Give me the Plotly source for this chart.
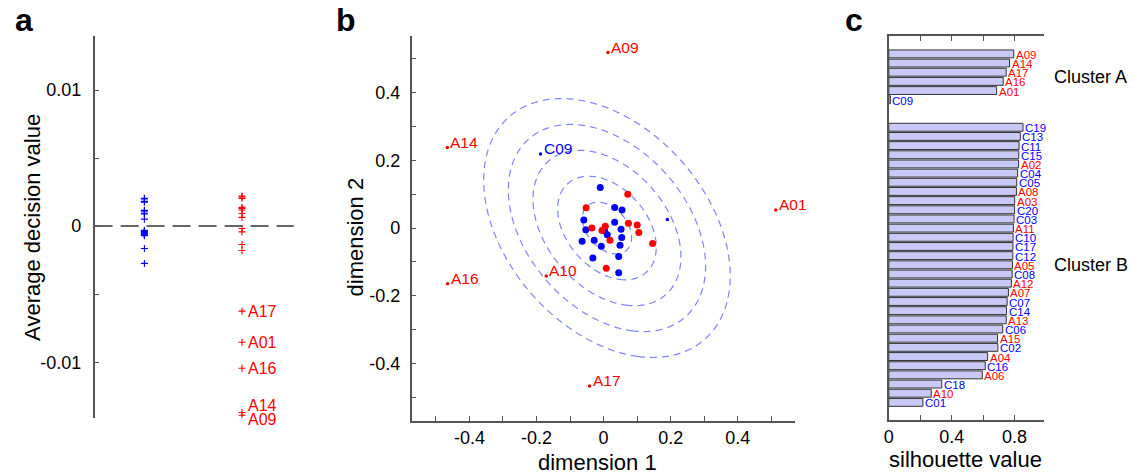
import numpy as np
import plotly.graph_objects as go

W, H = 1134, 475
FONT = "Arial, 'Liberation Sans', Helvetica, sans-serif"
BLUE = "#0000ff"
RED = "#ff0000"
AXC = "#555555"

# ---------------- Panel a data ----------------
a_group_names = ["controls", "patients"]
a_control_values = [0.00204, 0.00199, 0.00182, 0.00176, 0.00116, 0.00110, 0.00095, 0.00090,
                    0.00051, -0.00030, -0.00035, -0.00040, -0.00045, -0.00050, -0.00055,
                    -0.00060, -0.00066, -0.00070, -0.00164, -0.00274]
a_patient_values = [0.00221, 0.00215, 0.00204, 0.00138, 0.00130, 0.00118, 0.00093, 0.00064,
                    -0.00017, -0.00042, -0.00135, -0.00179]
a_outlier_labels = ["A17", "A01", "A16", "A14", "A09"]
a_outlier_values = [-0.00625, -0.00853, -0.01044, -0.01370, -0.01390]
a_ticks = [-0.01, 0, 0.01]
a_ticktext = ["-0.01", "0", "0.01"]

# ---------------- Panel b data ----------------
b_control_x = [-0.010, 0.033, 0.055, -0.059, 0.033, -0.053, 0.003, 0.011, 0.052, -0.064,
               -0.028, 0.054, -0.007, 0.049, -0.032, 0.045, 0.045]
b_control_y = [0.120, 0.061, 0.053, 0.024, 0.017, -0.005, -0.009, -0.020, -0.004, -0.039,
               -0.036, -0.028, -0.054, -0.051, -0.089, -0.084, -0.132]
b_control_small_x = [0.190]
b_control_small_y = [0.025]
b_patient_x = [0.072, -0.052, 0.074, 0.100, 0.105, -0.035, -0.005, 0.005, 0.019, 0.146, 0.008]
b_patient_y = [0.100, 0.060, 0.014, 0.009, -0.013, 0.000, -0.007, 0.005, -0.036, -0.046, -0.119]
b_out_labels = ["A09", "A14", "A01", "A16", "A10", "A17", "C09"]
b_out_x = [0.013, -0.466, 0.513, -0.465, -0.171, -0.042, -0.188]
b_out_y = [0.519, 0.238, 0.053, -0.165, -0.142, -0.467, 0.219]
b_ticks = [-0.4, -0.2, 0, 0.2, 0.4]
b_ticktext = ["-0.4", "-0.2", "0", "0.2", "0.4"]
b_minor = [-0.5, -0.3, -0.1, 0.1, 0.3, 0.5]
# Gaussian contour model (centre, per-ring SDs, correlation, ring levels)
b_contour_center = [0.010, 0.000]
b_contour_sd = [0.0735, 0.0766]
b_contour_corr = -0.37
b_contour_levels = [1, 2, 3, 4, 5]

# ---------------- Panel c data ----------------
c_clusterA_labels = ["A09", "A14", "A17", "A16", "A01", "C09"]
c_clusterA_values = [0.795, 0.768, 0.747, 0.728, 0.686, 0.010]
c_clusterB_labels = ["C19", "C13", "C11", "C15", "A02", "C04", "C05", "A08", "A03", "C20",
                     "C03", "A11", "C10", "C17", "C12", "A05", "C08", "A12", "A07", "C07",
                     "C14", "A13", "C06", "A15", "C02", "A04", "C16", "A06", "C18", "A10", "C01"]
c_clusterB_values = [0.854, 0.837, 0.829, 0.827, 0.826, 0.820, 0.814, 0.812, 0.801, 0.800,
                     0.797, 0.793, 0.791, 0.790, 0.789, 0.787, 0.785, 0.780, 0.761, 0.753,
                     0.749, 0.747, 0.725, 0.692, 0.694, 0.629, 0.614, 0.595, 0.337, 0.270, 0.217]
c_ticks = [0, 0.4, 0.8]
c_ticktext = ["0", "0.4", "0.8"]
c_minor = [0.2, 0.6]


def px_x(p):
    return p / W


def px_y(p):
    return 1 - p / H


fig = go.Figure()

# ----- Panel a -----
fig.add_trace(go.Scatter(
    x=[1] * len(a_control_values), y=a_control_values, mode="markers",
    marker=dict(symbol="cross-thin", size=5, line=dict(color=BLUE, width=1.1)),
    xaxis="x", yaxis="y", showlegend=False, hoverinfo="skip"))
fig.add_trace(go.Scatter(
    x=[2] * (len(a_patient_values) + len(a_outlier_values)),
    y=a_patient_values + a_outlier_values, mode="markers",
    marker=dict(symbol="cross-thin", size=5, line=dict(color=RED, width=1.1)),
    xaxis="x", yaxis="y", showlegend=False, hoverinfo="skip"))

annotations = []
a_label_shift = {"A14": 7, "A09": -4}
for lab, v in zip(a_outlier_labels, a_outlier_values):
    annotations.append(dict(x=2, y=v, xref="x", yref="y", text=lab, showarrow=False,
                            xanchor="left", yanchor="middle", xshift=4,
                            yshift=a_label_shift.get(lab, 0),
                            font=dict(size=16, color=RED, family=FONT)))

# ----- Panel b -----
gx = np.linspace(-0.57, 0.57, 301)
gy = np.linspace(-0.57, 0.57, 301)
GX, GY = np.meshgrid(gx, gy)
dx = (GX - b_contour_center[0]) / b_contour_sd[0]
dy = (GY - b_contour_center[1]) / b_contour_sd[1]
r = b_contour_corr
dist = np.sqrt((dx ** 2 - 2 * r * dx * dy + dy ** 2) / (1 - r ** 2))
fig.add_trace(go.Contour(
    x=gx, y=gy, z=dist,
    contours=dict(start=b_contour_levels[0], end=b_contour_levels[-1], size=1, coloring="none"),
    line=dict(color="rgba(100,110,255,0.85)", width=1.2, dash="7px,5px"),
    showscale=False, hoverinfo="skip", xaxis="x2", yaxis="y2"))

fig.add_trace(go.Scatter(
    x=b_control_x, y=b_control_y, mode="markers",
    marker=dict(color=BLUE, size=7), xaxis="x2", yaxis="y2",
    showlegend=False, hoverinfo="skip"))
fig.add_trace(go.Scatter(
    x=b_patient_x, y=b_patient_y, mode="markers",
    marker=dict(color=RED, size=7), xaxis="x2", yaxis="y2",
    showlegend=False, hoverinfo="skip"))
fig.add_trace(go.Scatter(
    x=b_control_small_x, y=b_control_small_y, mode="markers",
    marker=dict(color=BLUE, size=3.5), xaxis="x2", yaxis="y2",
    showlegend=False, hoverinfo="skip"))
b_out_colors = [BLUE if l.startswith("C") else RED for l in b_out_labels]
fig.add_trace(go.Scatter(
    x=b_out_x, y=b_out_y, mode="markers",
    marker=dict(color=b_out_colors, size=3.5), xaxis="x2", yaxis="y2",
    showlegend=False, hoverinfo="skip"))
for lab, x, y, col in zip(b_out_labels, b_out_x, b_out_y, b_out_colors):
    annotations.append(dict(x=x, y=y, xref="x2", yref="y2", text=lab, showarrow=False,
                            xanchor="left", yanchor="bottom", xshift=1, yshift=-5,
                            font=dict(size=15.5, color=col, family=FONT)))

# ----- Panel c -----
c_labels = c_clusterA_labels + c_clusterB_labels
c_values = c_clusterA_values + c_clusterB_values
c_pos = list(range(len(c_clusterA_labels))) + \
    [len(c_clusterA_labels) + 2 + j for j in range(len(c_clusterB_labels))]
fig.add_trace(go.Bar(
    x=c_values, y=c_pos, orientation="h",
    marker=dict(color="#c9c9f7", line=dict(color="#333333", width=1)),
    width=0.86, xaxis="x3", yaxis="y3", showlegend=False, hoverinfo="skip"))
for lab, v, p in zip(c_labels, c_values, c_pos):
    annotations.append(dict(x=v, y=p, xref="x3", yref="y3", text=lab, showarrow=False,
                            xanchor="left", yanchor="middle", xshift=0, yshift=-1,
                            font=dict(size=11.5, color=BLUE if lab.startswith("C") else RED,
                                      family=FONT)))

# ----- Text annotations (panel letters, titles) -----
def paper_text(x, y, text, size, bold=False, angle=0, xanchor="center", yanchor="middle"):
    annotations.append(dict(x=px_x(x), y=px_y(y), xref="paper", yref="paper",
                            text=("<b>%s</b>" % text) if bold else text, showarrow=False,
                            textangle=angle, xanchor=xanchor, yanchor=yanchor,
                            font=dict(size=size, color="#000000", family=FONT)))


paper_text(19, 20, "a", 32, bold=True)
paper_text(343, 20, "b", 32, bold=True)
paper_text(853, 20, "c", 32, bold=True)
paper_text(27, 227, "Average decision value", 22, angle=-90)
paper_text(353, 237, "dimension 2", 22, angle=-90)
paper_text(595, 462, "dimension 1", 22)
paper_text(965, 459, "silhouette value", 22)
paper_text(1052, 77, "Cluster A", 18, xanchor="left")
paper_text(1052, 265, "Cluster B", 18, xanchor="left")

common_axis = dict(showline=True, linecolor=AXC, linewidth=1.5, ticks="inside", ticklen=5,
                   tickwidth=1.2, tickcolor=AXC, showgrid=False, zeroline=False,
                   tickfont=dict(size=18, color="#000000", family=FONT))

fig.update_layout(
    width=W, height=H, margin=dict(l=0, r=0, t=0, b=0),
    paper_bgcolor="white", plot_bgcolor="white", showlegend=False,
    font=dict(family=FONT),
    xaxis=dict(domain=[px_x(90), px_x(290)], range=[0.49, 2.53], visible=False, anchor="y"),
    yaxis=dict(domain=[px_y(418), px_y(36)], range=[-0.0141, 0.01397], anchor="x",
               tickvals=a_ticks, ticktext=a_ticktext, ticklabelstandoff=8,
               minor=dict(tickvals=[-0.005, 0.005], ticks="inside", ticklen=5,
                          tickcolor=AXC, showgrid=False),
               **common_axis),
    xaxis2=dict(domain=[px_x(408.5), px_x(793)], range=[-0.572, 0.569], anchor="y2",
                tickvals=b_ticks, ticktext=b_ticktext,
                minor=dict(tickvals=b_minor, ticks="inside", ticklen=5, tickcolor=AXC,
                           showgrid=False),
                **common_axis),
    yaxis2=dict(domain=[px_y(420.7), px_y(36)], range=[-0.57, 0.568], anchor="x2",
                tickvals=b_ticks, ticktext=b_ticktext, ticklabelstandoff=6,
                minor=dict(tickvals=b_minor, ticks="inside", ticklen=5, tickcolor=AXC,
                           showgrid=False),
                **common_axis),
    xaxis3=dict(domain=[px_x(887.7), px_x(1044)], range=[0, 0.99], anchor="y3",
                tickvals=c_ticks, ticktext=c_ticktext, mirror="ticks",
                minor=dict(tickvals=c_minor, ticks="inside", ticklen=5, tickcolor=AXC,
                           showgrid=False),
                **common_axis),
    yaxis3=dict(domain=[px_y(420), px_y(36)], range=[39.92, -1.95], anchor="x3",
                showline=True, linecolor=AXC, linewidth=1.5, showticklabels=False,
                ticks="", showgrid=False, zeroline=False),
    shapes=[dict(type="line", xref="x domain", yref="y", x0=0, x1=1, y0=0, y1=0,
                 line=dict(color="#333333", width=1.5, dash="18px,8px"), layer="below")],
    annotations=annotations,
)

fig.write_html("out.html", config={"displayModeBar": False},
               post_script="document.body.style.margin='0px';document.body.style.overflow='hidden';")
